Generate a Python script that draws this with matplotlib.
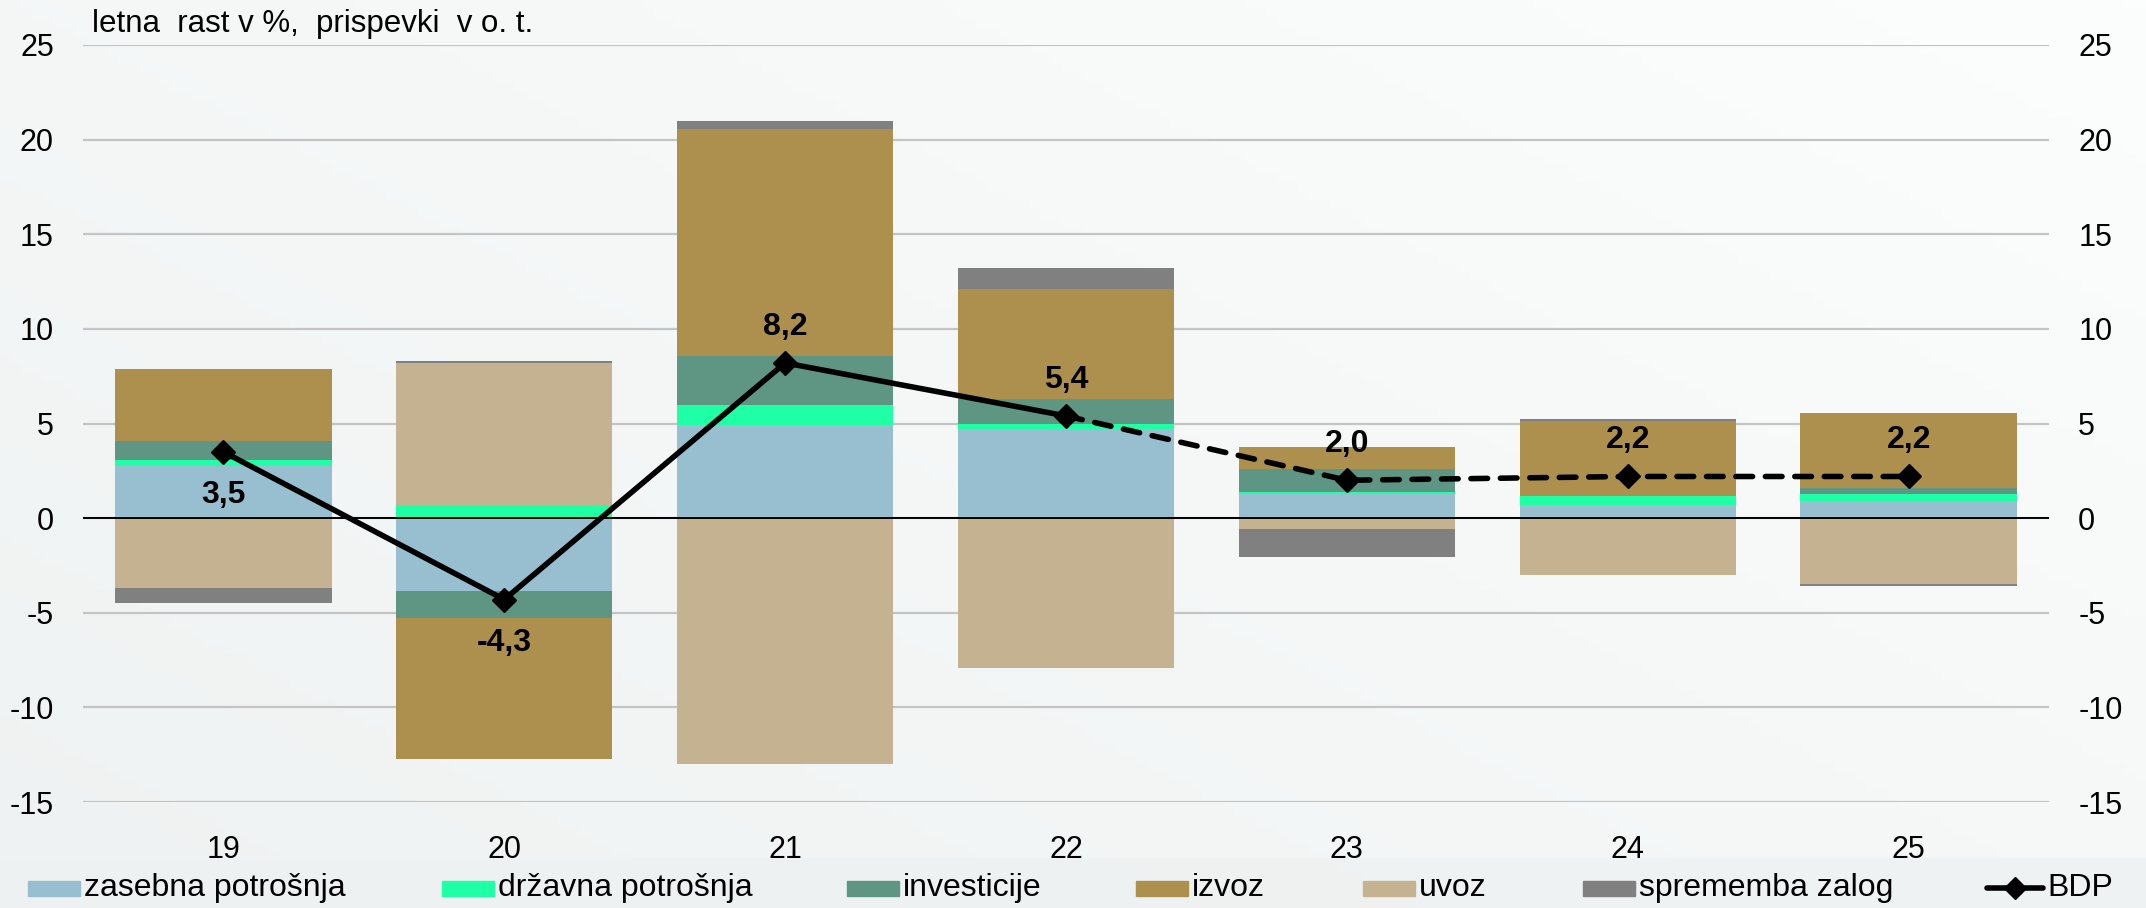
import numpy as np
import matplotlib
matplotlib.use("Agg")
import matplotlib.pyplot as plt
from matplotlib.patches import Rectangle
from matplotlib.lines import Line2D

plt.rcParams["font.family"] = ["Liberation Sans", "DejaVu Sans"]

# ---------------------------------------------------------------------------
# Data
# ---------------------------------------------------------------------------
years = ["19", "20", "21", "22", "23", "24", "25"]

zasebna = [2.75, -3.85, 4.90, 4.70, 1.30, 0.70, 0.90]
drzavna = [0.30, 0.67, 1.10, 0.25, 0.08, 0.45, 0.35]
investicije = [1.00, -1.45, 2.55, 1.37, 1.20, 0.00, 0.34]
izvoz = [3.85, -7.45, 12.00, 5.78, 1.17, 4.00, 3.95]
uvoz = [-3.70, 7.55, -13.00, -7.90, -0.55, -3.00, -3.50]
zaloge = [-0.80, 0.10, 0.45, 1.10, -1.50, 0.07, -0.07]
bdp = [3.5, -4.3, 8.2, 5.4, 2.0, 2.2, 2.2]

series_names = ["zasebna potrošnja", "državna potrošnja", "investicije",
                "izvoz", "uvoz", "sprememba zalog"]
series_values = [zasebna, drzavna, investicije, izvoz, uvoz, zaloge]
series_colors = ["#97BFCF", "#1EFFA6", "#5F9683", "#AE904E", "#C5B291", "#808080"]

# Last actual year; forecast part of BDP line is dashed from here on
LAST_ACTUAL = 3

W, H = 2146, 908
fig = plt.figure(figsize=(W / 100, H / 100), dpi=100)

# Background: light gray with a soft diagonal fade towards white
bg = fig.add_axes([0, 0, 1, 1], zorder=-10)
gx, gy = np.meshgrid(np.linspace(0, 1, 200), np.linspace(0, 1, 100))
grad = np.clip(0.55 * gx + 0.45 * (1 - gy), 0, 1)
bg.imshow(grad, cmap=matplotlib.colors.LinearSegmentedColormap.from_list(
    "bg", ["#eff2f2", "#fcfdfd"]), aspect="auto", extent=(0, 1, 0, 1))
bg.add_patch(Rectangle((0, 0), 1, 50 / H, color="#eef1f1", alpha=0.8, lw=0))
bg.set_xlim(0, 1)
bg.set_ylim(0, 1)
bg.axis("off")

ax = fig.add_axes([83 / W, (H - 802) / H, (2049 - 83) / W, (802 - 45) / H])
ax.patch.set_alpha(0)

x = np.arange(len(years))
width = 0.77
pos_base = np.zeros(len(years))
neg_base = np.zeros(len(years))
for vals, col in zip(series_values, series_colors):
    vals = np.asarray(vals)
    bottoms = np.where(vals >= 0, pos_base, neg_base)
    ax.bar(x, vals, width, bottom=bottoms, color=col, edgecolor="none", zorder=2)
    pos_base += np.where(vals >= 0, vals, 0)
    neg_base += np.where(vals < 0, vals, 0)

# BDP line: solid for actual years, dashed for projections
lw = 4.0
ax.plot(x[:LAST_ACTUAL + 1], bdp[:LAST_ACTUAL + 1], color="black", lw=lw,
        solid_capstyle="round", zorder=4)
ax.plot(x[LAST_ACTUAL:], bdp[LAST_ACTUAL:], color="black", lw=lw,
        dashes=(3.0, 2.3), dash_capstyle="round", zorder=4)
ax.plot(x, bdp, ls="none", marker="D", ms=12, color="black", zorder=5)

for xi, v in zip(x, bdp):
    below = xi in (0, 1)
    ax.annotate(f"{v:.1f}".replace(".", ","), (xi, v),
                xytext=(0, -31 if below else 26), textcoords="offset points",
                ha="center", va="center", fontsize=23, fontweight="bold",
                zorder=6)

ax.set_xlim(-0.5, len(years) - 0.5)
ax.set_ylim(-15, 25)
ax.set_yticks(np.arange(-15, 26, 5))
ax.set_yticklabels([str(t) for t in range(-15, 26, 5)])
ax.set_xticks(x)
ax.set_xticklabels(years)
ax.grid(axis="y", color="#C4C4C4", lw=1.6, zorder=0)
ax.axhline(0, color="black", lw=1.4, zorder=3)
for s in ax.spines.values():
    s.set_visible(False)
ax.tick_params(axis="both", length=0, labelsize=22)
ax.tick_params(axis="y", pad=21)
ax.tick_params(axis="x", pad=24)

ax2 = ax.twinx()
ax2.set_ylim(ax.get_ylim())
ax2.set_yticks(np.arange(-15, 26, 5))
ax2.set_yticklabels([str(t) for t in range(-15, 26, 5)])
ax2.tick_params(axis="y", length=0, labelsize=22, pad=21)
for s in ax2.spines.values():
    s.set_visible(False)

fig.text(92 / W, 1 - 24 / H, "letna  rast v %,  prispevki  v o. t.",
         fontsize=22.5, ha="left", va="center")

# Legend along the bottom strip (Excel-style irregular spacing)
leg_y = 1 - 888 / H
leg_x = [28, 442, 847, 1136, 1363, 1583]
for px, name, col in zip(leg_x, series_names, series_colors):
    fig.patches.append(Rectangle((px / W, leg_y - 7.5 / H), 52 / W, 15 / H,
                                 transform=fig.transFigure, color=col,
                                 figure=fig))
    fig.text((px + 56) / W, leg_y, name, fontsize=23, ha="left", va="center")
fig.add_artist(Line2D([1987 / W, 2043 / W], [leg_y, leg_y], color="black",
                      lw=lw, solid_capstyle="round"))
fig.add_artist(Line2D([2015 / W], [leg_y], marker="D", ms=11, color="black"))
fig.text(2047 / W, leg_y, "BDP", fontsize=23, ha="left", va="center")

fig.savefig("out.png", dpi=100)
